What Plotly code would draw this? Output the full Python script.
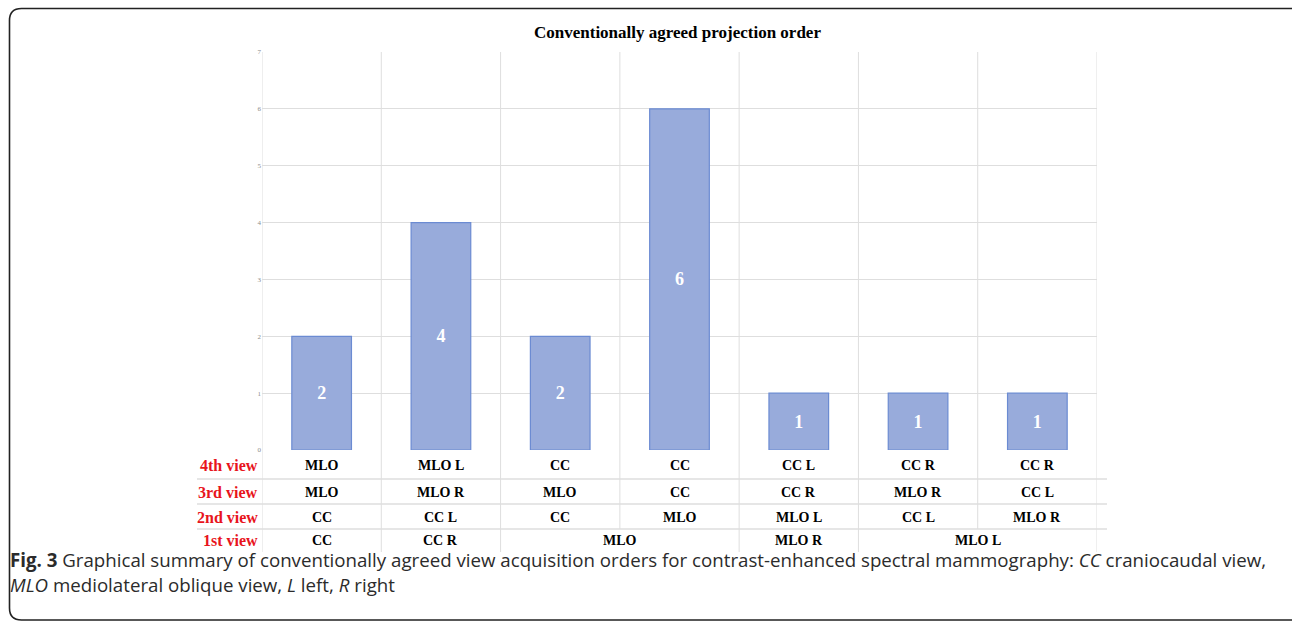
import plotly.graph_objects as go

## Data
VALUES = [2, 4, 2, 6, 1, 1, 1]
VIEW_ROWS = ['4th view', '3rd view', '2nd view', '1st view']
FOURTH = ['MLO', 'MLO L', 'CC', 'CC', 'CC L', 'CC R', 'CC R']
THIRD = ['MLO', 'MLO R', 'MLO', 'CC', 'CC R', 'MLO R', 'CC L']
SECOND = ['CC', 'CC L', 'CC', 'MLO', 'MLO L', 'CC L', 'MLO R']
# 1st view has merged cells: (label, first column, last column)
FIRST = [('CC', 0, 0), ('CC R', 1, 1), ('MLO', 2, 3), ('MLO R', 4, 4), ('MLO L', 5, 6)]
Y_TICKS = [0, 1, 2, 3, 4, 5, 6, 7]

TITLE = 'Conventionally agreed projection order'
CAPTION_1 = ('<b>Fig. 3</b> Graphical summary of conventionally agreed view acquisition orders '
             'for contrast-enhanced spectral mammography: <i>CC</i> craniocaudal view,')
CAPTION_2 = '<i>MLO</i> mediolateral oblique view, <i>L</i> left, <i>R</i> right'

## Layout constants (pixels)
W, H = 1292, 622
PLOT_L, PLOT_R, PLOT_T, PLOT_B = 262, 1097, 52, 450
ROW_EDGES = [450, 479, 504, 529, 552]
GRID = '#dedede'
SERIF = 'Liberation Serif'


def py(p):
    # pixel y -> paper y
    return (PLOT_B - p) / (PLOT_B - PLOT_T)


def px(p):
    return (p - PLOT_L) / (PLOT_R - PLOT_L)


n = len(VALUES)
xs = list(range(n))

fig = go.Figure()
fig.add_trace(go.Bar(
    x=xs, y=VALUES, width=0.5,
    marker=dict(color='#98abdb', line=dict(color='#6b8bd2', width=1.2)),
    text=[str(v) for v in VALUES], textposition='inside', insidetextanchor='middle',
    textfont=dict(family=SERIF, size=18, color='white', weight='bold'),
    hoverinfo='skip'))

shapes = []
# vertical boundary lines through chart and first three table rows
for k in range(n + 1):
    xb = k - 0.5
    shapes.append(dict(type='line', xref='x', yref='paper', x0=xb, x1=xb,
                       y0=py(ROW_EDGES[3]), y1=1, line=dict(color=GRID, width=1), layer='below'))
# 1st view row boundaries (merged cells)
bounds = sorted({c0 - 0.5 for _, c0, _ in FIRST} | {c1 + 0.5 for _, _, c1 in FIRST})
for xb in bounds:
    shapes.append(dict(type='line', xref='x', yref='paper', x0=xb, x1=xb,
                       y0=py(ROW_EDGES[4]), y1=py(ROW_EDGES[3]), line=dict(color=GRID, width=1), layer='below'))
# horizontal table lines
for e in ROW_EDGES[1:4]:
    shapes.append(dict(type='line', xref='paper', yref='paper', x0=px(197), x1=px(1107),
                       y0=py(e), y1=py(e), line=dict(color=GRID, width=1.5), layer='below'))

# rounded border box
x0, x1, y0, y1, r = px(9.5), px(1300), py(620), py(8.5), 12
rx, ry = r / (PLOT_R - PLOT_L), r / (PLOT_B - PLOT_T)
path = (f'M {x0},{y0 + ry} L {x0},{y1 - ry} Q {x0},{y1} {x0 + rx},{y1} '
        f'L {x1},{y1} L {x1},{y0} L {x0 + rx},{y0} Q {x0},{y0} {x0},{y0 + ry} Z')
shapes.append(dict(type='path', xref='paper', yref='paper', path=path,
                   line=dict(color='#222222', width=1.6)))

annotations = []
cell_font = dict(family=SERIF, size=14, color='black', weight='bold')
# table cells
for ri, row in enumerate([FOURTH, THIRD, SECOND]):
    yc = (ROW_EDGES[ri] + ROW_EDGES[ri + 1]) / 2 + 1
    for i, lab in enumerate(row):
        annotations.append(dict(x=i, y=py(yc), xref='x', yref='paper', text=lab, showarrow=False,
                                xanchor='center', yanchor='middle', font=cell_font))
yc = (ROW_EDGES[3] + ROW_EDGES[4]) / 2
for lab, c0, c1 in FIRST:
    annotations.append(dict(x=(c0 + c1) / 2, y=py(yc), xref='x', yref='paper', text=lab, showarrow=False,
                            xanchor='center', yanchor='middle', font=cell_font))
# row labels
for ri, lab in enumerate(VIEW_ROWS):
    yc = (ROW_EDGES[ri] + ROW_EDGES[ri + 1]) / 2 + (1 if ri < 3 else 0)
    annotations.append(dict(x=px(260), y=py(yc), xref='paper', yref='paper', text=lab, showarrow=False,
                            xanchor='right', yanchor='middle',
                            font=dict(family=SERIF, size=16, color='#e8141c', weight='bold')))
# title
annotations.append(dict(x=px(677), y=py(32), xref='paper', yref='paper', text=f'<b>{TITLE}</b>',
                        showarrow=False, xanchor='center', yanchor='middle',
                        font=dict(family=SERIF, size=17, color='black')))
# caption
for txt, yy in [(CAPTION_1, 559), (CAPTION_2, 584)]:
    annotations.append(dict(x=px(8), y=py(yy), xref='paper', yref='paper', text=txt, showarrow=False,
                            xanchor='left', yanchor='middle',
                            font=dict(family='Open Sans', size=18.7, color='#2b2b2b')))

fig.update_layout(
    width=W, height=H,
    margin=dict(l=PLOT_L, r=W - PLOT_R, t=PLOT_T, b=H - PLOT_B),
    paper_bgcolor='white', plot_bgcolor='white',
    showlegend=False,
    bargap=0.5,
    xaxis=dict(range=[-0.5, n - 0.5], showticklabels=False, showgrid=False, zeroline=False, ticks=''),
    yaxis=dict(range=[0, 7], tickvals=Y_TICKS, showgrid=True, gridcolor=GRID, gridwidth=1,
               zeroline=False, tickfont=dict(family=SERIF, size=7, color='#8c8c8c'), ticklen=0,
               ticks='', showline=False),
    shapes=shapes, annotations=annotations,
)

fig.write_html('out.html', config={'displayModeBar': False},
               post_script="document.body.style.margin='0';")
